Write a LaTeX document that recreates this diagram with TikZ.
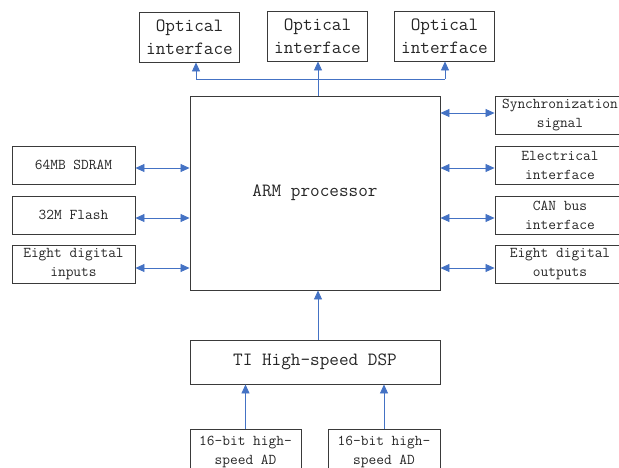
\documentclass[tikz,border=0pt]{standalone}
\usetikzlibrary{arrows.meta}

\definecolor{linkblue}{HTML}{4472C4}
\definecolor{boxgray}{HTML}{3A3A3A}

\tikzset{
    unit/.style={draw=boxgray, line width=0.9pt, align=center, inner sep=0pt,
        font=\ttfamily\fontsize{15}{19}\selectfont, text=black!85},
    bigunit/.style={unit, font=\ttfamily\fontsize{18.7}{22.5}\selectfont},
    link/.style={draw=linkblue, line width=0.8pt, -{Triangle[length=9pt,width=8pt]}},
    duplex/.style={link, {Triangle[length=9pt,width=8pt]}-{Triangle[length=9pt,width=8pt]}}
}

\begin{document}
\begin{tikzpicture}[x=1pt, y=-1pt]

    % Page frame, boxes on the right and bottom run off it
    \useasboundingbox (0,0) rectangle (619,467);
    \clip (0,0) rectangle (619,467);

    % Main processor
    \node[bigunit, minimum width=250pt, minimum height=194pt] (arm) at (315,193) {ARM processor};

    % Optical interfaces on top
    \node[bigunit, minimum width=100pt, minimum height=50pt] (opt1) at (189.5,37) {Optical\\interface};
    \node[bigunit, minimum width=100pt, minimum height=50pt] (opt2) at (317.5,36) {Optical\\interface};
    \node[bigunit, minimum width=100pt, minimum height=50pt] (opt3) at (444.5,36) {Optical\\interface};

    % Memory and inputs on the left
    \node[unit, minimum width=123pt, minimum height=38pt] (sdram) at (73.5,165) {64MB SDRAM};
    \node[unit, minimum width=123pt, minimum height=38pt] (flash) at (73.5,215) {32M Flash};
    \node[unit, minimum width=123pt, minimum height=38pt] (din) at (73.5,264.5) {Eight digital\\inputs};

    % Peripherals on the right
    \node[unit, minimum width=130pt, minimum height=38pt] (sync) at (560,115) {Synchronization\\signal};
    \node[unit, minimum width=130pt, minimum height=38pt] (elec) at (560,165) {Electrical\\interface};
    \node[unit, minimum width=130pt, minimum height=38pt] (can) at (560,215) {CAN bus\\interface};
    \node[unit, minimum width=130pt, minimum height=38pt] (dout) at (560,264.5) {Eight digital\\outputs};

    % DSP and AD converters below
    \node[bigunit, minimum width=250pt, minimum height=44pt] (dsp) at (315,362) {TI High-speed DSP};
    \node[unit, minimum width=111pt, minimum height=46pt] (ad1) at (245.5,452) {16-bit high-\\speed AD};
    \node[unit, minimum width=112pt, minimum height=46pt] (ad2) at (384,452) {16-bit high-\\speed AD};

    % Bus to the optical interfaces
    \coordinate (busL) at (196,79);
    \coordinate (busR) at (445,79);
    \draw[linkblue, line width=0.8pt] (busL) -- (busR);
    \draw[link] (busL) -- (busL |- opt1.south);
    \draw[link] (busR) -- (busR |- opt3.south);
    \draw[link] ([xshift=3pt]arm.north) -- ([xshift=3pt]arm.north |- opt2.south);

    % Left side links
    \draw[duplex] ([yshift=-3pt]sdram.east) -- ([yshift=-3pt]sdram.east -| arm.west);
    \draw[duplex] ([yshift=-3pt]flash.east) -- ([yshift=-3pt]flash.east -| arm.west);
    \draw[duplex] ([yshift=-3.5pt]din.east) -- ([yshift=-3.5pt]din.east -| arm.west);

    % Right side links
    \draw[duplex] ([yshift=2pt]sync.west -| arm.east) -- ([yshift=2pt]sync.west);
    \draw[duplex] ([yshift=-3pt]elec.west -| arm.east) -- ([yshift=-3pt]elec.west);
    \draw[duplex] ([yshift=-3pt]can.west -| arm.east) -- ([yshift=-3pt]can.west);
    \draw[duplex] ([yshift=-3.5pt]dout.west -| arm.east) -- ([yshift=-3.5pt]dout.west);

    % DSP up to the processor, converters up to the DSP
    \draw[link] ([xshift=3pt]dsp.north) -- ([xshift=3pt]arm.south);
    \draw[link] (ad1.north) -- (ad1.north |- dsp.south);
    \draw[link] (ad2.north) -- (ad2.north |- dsp.south);

\end{tikzpicture}
\end{document}
